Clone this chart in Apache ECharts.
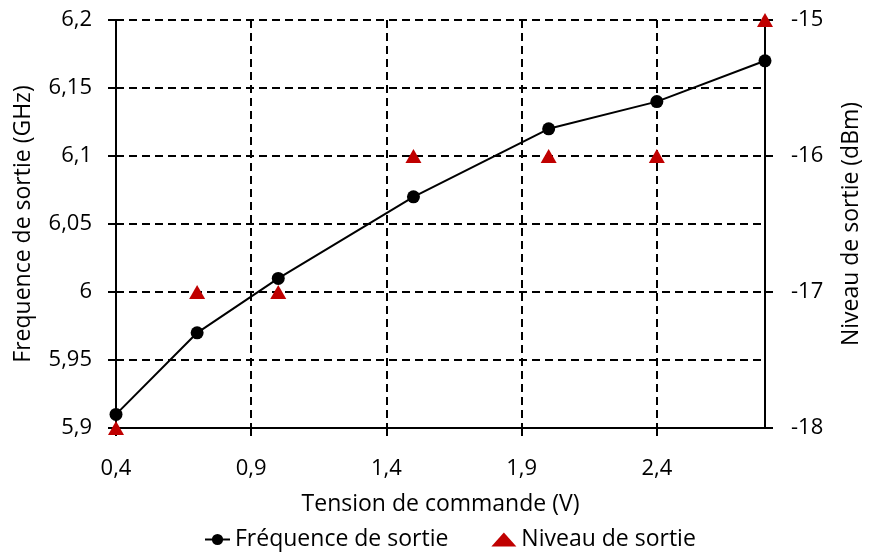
<!DOCTYPE html>
<html>
<head>
<meta charset="utf-8">
<script src="https://cdn.jsdelivr.net/npm/echarts@6/dist/echarts.min.js"></script>
<style>
  html, body { margin: 0; padding: 0; background: #fff; }
  #chart { width: 871px; height: 560px; }
</style>
</head>
<body>
<div id="chart"></div>
<script>
// Tension de commande (V)
const tension = [0.4, 0.7, 1.0, 1.5, 2.0, 2.4, 2.8];
// Fréquence de sortie (GHz)
const frequence = [5.91, 5.97, 6.01, 6.07, 6.12, 6.14, 6.17];
// Niveau de sortie (dBm)
const niveau = [-18, -17, -17, -16, -16, -16, -15];

const FONT = '"Open Sans", "DejaVu Sans", sans-serif';
const comma = v => String(+v.toFixed(4)).replace('.', ',');
const dashed = { color: '#000', width: 2, type: [8, 5] };

const chart = echarts.init(document.getElementById('chart'), null, { renderer: 'canvas' });

chart.setOption({
  animation: false,
  backgroundColor: '#ffffff',
  textStyle: { fontFamily: FONT },
  grid: { left: 116, right: 101, top: 20, bottom: 132, containLabel: false },
  legend: {
    bottom: 4,
    left: 199,
    itemGap: 43,
    itemWidth: 25,
    itemHeight: 14,
    textStyle: { fontFamily: FONT, fontSize: 23, color: '#000' },
    data: [
      { name: 'Fréquence de sortie' },
      { name: 'Niveau de sortie', icon: 'triangle', itemStyle: { color: '#C00000' } }
    ]
  },
  xAxis: {
    type: 'value',
    min: 0.4,
    max: 2.8,
    interval: 0.5,
    name: 'Tension de commande (V)',
    nameLocation: 'middle',
    nameGap: 65,
    nameTextStyle: { fontFamily: FONT, fontSize: 23, color: '#000' },
    axisLine: { show: true, onZero: false, lineStyle: { color: '#000', width: 2 } },
    axisTick: { show: true, inside: false, length: 8, lineStyle: { color: '#000', width: 2 } },
    axisLabel: {
      margin: 30, fontFamily: FONT, fontSize: 22, color: '#000',
      showMaxLabel: false,
      formatter: v => (Math.abs(v - 2.8) < 1e-6 ? '' : comma(v))
    },
    splitLine: { show: true, lineStyle: dashed }
  },
  yAxis: [
    {
      type: 'value',
      min: 5.9,
      max: 6.2,
      interval: 0.05,
      position: 'left',
      name: 'Frequence de sortie (GHz)',
      nameLocation: 'middle',
      nameRotate: 90,
      nameGap: 81,
      nameTextStyle: { fontFamily: FONT, fontSize: 23, color: '#000' },
      axisLine: { show: true, lineStyle: { color: '#000', width: 2 } },
      axisTick: { show: true, length: 8, lineStyle: { color: '#000', width: 2 } },
      axisLabel: { margin: 24, fontFamily: FONT, fontSize: 22, color: '#000', formatter: comma },
      splitLine: { show: true, lineStyle: dashed }
    },
    {
      type: 'value',
      min: -18,
      max: -15,
      interval: 1,
      position: 'right',
      name: 'Niveau de sortie (dBm)',
      nameLocation: 'middle',
      nameRotate: 90,
      nameGap: 75,
      nameTextStyle: { fontFamily: FONT, fontSize: 23, color: '#000' },
      axisLine: { show: true, lineStyle: { color: '#000', width: 2 } },
      axisTick: { show: true, length: 8, lineStyle: { color: '#000', width: 2 } },
      axisLabel: { margin: 26, fontFamily: FONT, fontSize: 22, color: '#000' },
      splitLine: { show: false }
    }
  ],
  series: [
    {
      name: 'Fréquence de sortie',
      type: 'line',
      yAxisIndex: 0,
      data: tension.map((x, i) => [x, frequence[i]]),
      symbol: 'circle',
      symbolSize: 13,
      showAllSymbol: true,
      lineStyle: { color: '#000', width: 2 },
      itemStyle: { color: '#000' },
      z: 3
    },
    {
      name: 'Niveau de sortie',
      type: 'scatter',
      yAxisIndex: 1,
      data: tension.map((x, i) => [x, niveau[i]]),
      symbol: 'triangle',
      symbolSize: [16, 14],
      itemStyle: { color: '#C00000', opacity: 1 },
      z: 4
    }
  ]
});
</script>
</body>
</html>
